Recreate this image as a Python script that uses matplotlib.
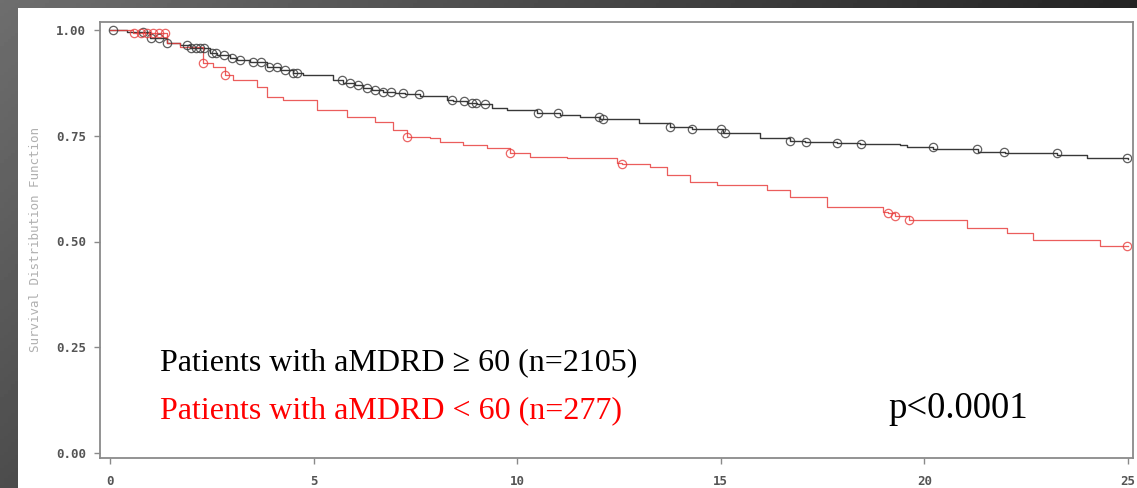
import numpy as np
import matplotlib
matplotlib.use("Agg")
import matplotlib.pyplot as plt
from matplotlib.patches import Rectangle

# ---------------- data ----------------
hi_times = [0.0, 0.42, 0.98, 1.40, 1.72, 1.96, 2.46, 2.63, 2.95, 3.12, 3.44, 3.86,
            4.17, 4.49, 4.74, 5.48, 5.72, 6.02, 6.21, 6.43, 6.70, 7.00, 7.24, 7.61,
            8.28, 8.42, 8.77, 9.01, 9.38, 9.75, 10.49, 11.05, 11.54, 12.03, 13.00,
            13.75, 14.29, 15.05, 15.96, 16.70, 17.07, 17.85, 18.42, 19.40, 19.57,
            20.21, 21.32, 21.98, 23.26, 23.99, 25.0]
hi_surv = [1.000, 0.995, 0.981, 0.969, 0.965, 0.957, 0.946, 0.941, 0.934, 0.929, 0.924, 0.913,
           0.905, 0.898, 0.894, 0.882, 0.875, 0.870, 0.863, 0.858, 0.853, 0.851, 0.849, 0.844,
           0.835, 0.832, 0.827, 0.825, 0.816, 0.811, 0.804, 0.799, 0.794, 0.790, 0.780,
           0.771, 0.766, 0.757, 0.745, 0.738, 0.735, 0.733, 0.730, 0.728, 0.723,
           0.719, 0.712, 0.709, 0.704, 0.697, 0.695]
hi_censor = [0.07, 0.8, 1.0, 1.2, 1.4, 1.9, 2.0, 2.1, 2.2, 2.3, 2.5, 2.6, 2.8, 3.0, 3.2,
             3.5, 3.7, 3.9, 4.1, 4.3, 4.5, 4.6, 5.7, 5.9, 6.1, 6.3, 6.5, 6.7, 6.9, 7.2,
             7.6, 8.4, 8.7, 8.9, 9.0, 9.2, 10.5, 11.0, 12.0, 12.1, 13.75, 14.3, 15.0,
             15.1, 16.7, 17.1, 17.85, 18.45, 20.2, 21.3, 21.95, 23.25, 24.98]

lo_times = [0.0, 0.56, 1.40, 1.72, 2.28, 2.53, 2.82, 3.02, 3.61, 3.86, 4.25, 5.08, 5.82,
            6.50, 6.95, 7.29, 7.86, 8.10, 8.67, 9.26, 9.82, 10.31, 11.22, 12.45, 12.57,
            13.26, 13.68, 14.24, 14.91, 16.13, 16.70, 17.61, 18.98, 19.10, 19.28, 19.62,
            21.05, 22.03, 22.67, 24.31, 25.0]
lo_surv = [1.000, 0.993, 0.969, 0.960, 0.922, 0.913, 0.894, 0.882, 0.865, 0.842, 0.835, 0.811, 0.794,
           0.782, 0.764, 0.747, 0.745, 0.735, 0.728, 0.721, 0.709, 0.700, 0.697, 0.686, 0.684,
           0.676, 0.657, 0.641, 0.634, 0.622, 0.605, 0.582, 0.570, 0.567, 0.560, 0.551,
           0.532, 0.520, 0.504, 0.489, 0.489]
lo_censor = [0.6, 0.75, 0.9, 1.05, 1.2, 1.35, 2.28, 2.82, 7.29, 9.82, 12.57, 19.1, 19.28,
             19.62, 24.98]

x_ticks = [0, 5, 10, 15, 20, 25]
y_ticks = [0.00, 0.25, 0.50, 0.75, 1.00]
y_label = "Survival Distribution Function"
label_hi = "Patients with aMDRD \u2265 60 (n=2105)"
label_lo = "Patients with aMDRD < 60 (n=277)"
p_text = "p<0.0001"

# ---------------- figure ----------------
W, H = 1137, 488
fig = plt.figure(figsize=(W / 100, H / 100), dpi=100)

# gradient grey background
bg = fig.add_axes([0, 0, 1, 1], zorder=-10)
gx = np.linspace(0, 1, 300)[None, :]
gy = np.linspace(0, 1, 150)[:, None]
grad = 0.43 - 0.29 * gx - 0.13 * gy
bg.imshow(grad, cmap="gray", vmin=0, vmax=1, aspect="auto",
          extent=[0, 1, 0, 1], origin="upper")
bg.add_patch(Rectangle((18 / W, 0), 1, 1 - 8 / H, facecolor="white",
                       edgecolor="none", transform=bg.transAxes))
bg.set_xlim(0, 1)
bg.set_ylim(0, 1)
bg.axis("off")

ax = fig.add_axes([100 / W, 1 - 458 / H, (1133 - 100) / W, (458 - 22) / H])
ax.set_facecolor("none")

red = "#e8403f"
blk = "#383838"

ax.step(hi_times, hi_surv, where="post", color=blk, lw=1.0)
ax.step(lo_times, lo_surv, where="post", color=red, lw=0.9, alpha=0.85)

ht = np.array(hi_times); hs = np.array(hi_surv)
lt = np.array(lo_times); ls = np.array(lo_surv)
hc = np.array(hi_censor); lc = np.array(lo_censor)
hcs = hs[np.searchsorted(ht, hc, side="right") - 1]
lcs = ls[np.searchsorted(lt, lc, side="right") - 1]
ax.plot(hc, hcs, linestyle="none", marker="o", ms=6, mfc="none",
        mec=blk, mew=0.9, alpha=0.8)
ax.plot(lc, lcs, linestyle="none", marker="o", ms=6, mfc="none",
        mec=red, mew=0.9, alpha=0.8)

ax.set_xlim(-10 / 40.72, 25 + 5 / 40.72)
ax.set_ylim(-5 / 423, 1 + 8 / 423)

ax.set_xticks(x_ticks)
ax.set_xticklabels([str(v) for v in x_ticks])
ax.set_yticks(y_ticks)
ax.set_yticklabels([f"{v:.2f}" for v in y_ticks])

for s in ax.spines.values():
    s.set_color("#8a8a8a")
    s.set_linewidth(1.3)
ax.tick_params(axis="both", direction="out", length=4, width=1, color="#8a8a8a",
               labelcolor="#555555", labelsize=9)
ax.tick_params(axis="y", pad=6)
ax.tick_params(axis="x", pad=8)
for lab in ax.get_xticklabels() + ax.get_yticklabels():
    lab.set_family("DejaVu Sans Mono")
    lab.set_fontweight("bold")

ax.set_ylabel(y_label, family="DejaVu Sans Mono", fontsize=9, color="#b0b0b0",
              labelpad=10)

serif = ["Liberation Serif", "DejaVu Serif"]
ax.text(60 / 1033, 1 - (370 - 22) / 436, label_hi, transform=ax.transAxes,
        family=["Liberation Serif", "DejaVu Sans"], fontsize=23, color="black",
        va="baseline", ha="left")
ax.text(60 / 1033, 1 - (418 - 22) / 436, label_lo, transform=ax.transAxes,
        family=serif, fontsize=23, color="#ff0000", va="baseline", ha="left")
ax.text((888 - 100) / 1033, 1 - (418 - 22) / 436, p_text, transform=ax.transAxes,
        family=serif, fontsize=26.5, color="black", va="baseline", ha="left")

fig.savefig("out.png", dpi=100)
